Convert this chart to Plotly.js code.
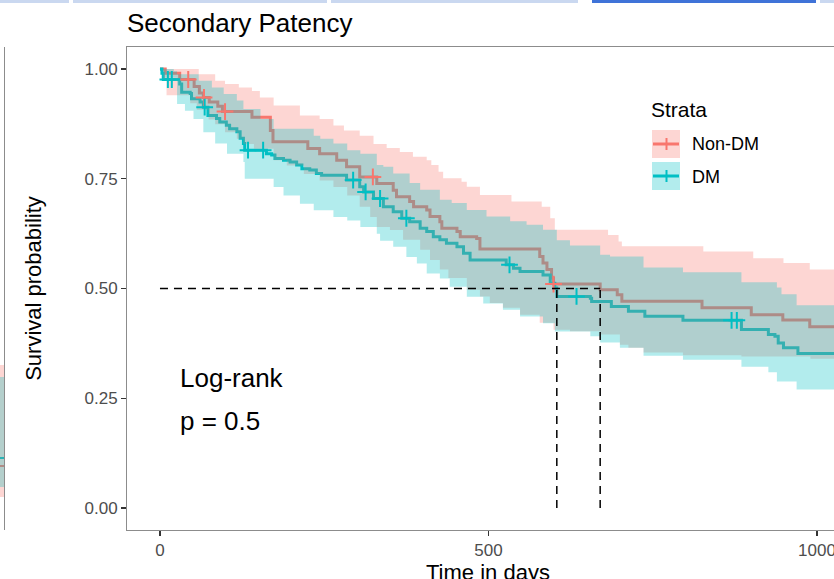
<!DOCTYPE html>
<html><head><meta charset="utf-8">
<script src="https://cdn.plot.ly/plotly-3.0.1.min.js"></script>
<style>html,body{margin:0;padding:0;overflow:hidden;background:#fff}#chart{width:880px;height:579px}</style>
</head><body><div id="chart"></div>
<script>
// ---------------- data ----------------
const strata = ["Non-DM", "DM"];
const T_END = 1060;

const nonDM_t = [0, 8, 30, 52, 60, 66, 75, 88, 95, 140, 168, 172, 225, 243, 269, 284, 304, 330, 355, 360, 380, 386, 406, 411, 426, 429, 452, 457, 482, 487, 578, 583, 589, 596, 599, 670, 696, 703, 825, 900, 948, 989];
const nonDM_s = [1.0, 0.99, 0.976, 0.96, 0.945, 0.935, 0.925, 0.915, 0.903, 0.89, 0.86, 0.834, 0.819, 0.807, 0.792, 0.777, 0.754, 0.739, 0.724, 0.709, 0.698, 0.686, 0.679, 0.664, 0.652, 0.637, 0.630, 0.618, 0.614, 0.590, 0.573, 0.558, 0.543, 0.524, 0.510, 0.497, 0.486, 0.471, 0.456, 0.440, 0.428, 0.413];
const nonDM_upper_t = [0, 59, 84, 99, 120, 140, 152, 173, 213, 243, 264, 280, 304, 325, 345, 365, 385, 406, 413, 424, 431, 459, 467, 487, 535, 581, 594, 601, 682, 698, 703, 827, 903, 949, 989];
const nonDM_upper_s = [1.0, 0.988, 0.973, 0.966, 0.958, 0.950, 0.935, 0.917, 0.894, 0.886, 0.871, 0.860, 0.848, 0.829, 0.820, 0.811, 0.800, 0.792, 0.781, 0.766, 0.751, 0.743, 0.732, 0.713, 0.698, 0.686, 0.660, 0.634, 0.622, 0.607, 0.596, 0.584, 0.569, 0.558, 0.543];
const nonDM_lower_t = [0, 5, 10, 46, 56, 74, 84, 99, 117, 127, 143, 173, 193, 219, 243, 264, 285, 304, 320, 330, 350, 370, 396, 411, 426, 439, 467, 487, 502, 522, 548, 578, 599, 624, 670, 700, 713, 736, 796, 885, 990];
const nonDM_lower_s = [1.0, 0.975, 0.94, 0.922, 0.907, 0.885, 0.874, 0.856, 0.841, 0.829, 0.818, 0.792, 0.780, 0.761, 0.746, 0.731, 0.712, 0.686, 0.663, 0.640, 0.633, 0.611, 0.588, 0.565, 0.543, 0.524, 0.497, 0.482, 0.467, 0.456, 0.440, 0.422, 0.406, 0.4025, 0.395, 0.372, 0.365, 0.354, 0.348, 0.345, 0.340];
const nonDM_cens_t = [43, 67, 99, 324, 599];
const nonDM_cens_s = [0.976, 0.935, 0.903, 0.754, 0.510];

const dm_t = [0, 3, 5, 30, 33, 46, 48, 61, 66, 73, 86, 91, 101, 106, 117, 122, 127, 129, 162, 170, 175, 188, 198, 208, 216, 228, 238, 246, 284, 304, 310, 325, 340, 355, 368, 380, 396, 406, 416, 426, 436, 452, 462, 472, 527, 538, 548, 583, 594, 601, 604, 655, 657, 687, 713, 738, 796, 885, 926, 936, 941, 949, 971];
const dm_s = [1.0, 0.99, 0.976, 0.966, 0.947, 0.944, 0.932, 0.925, 0.913, 0.894, 0.887, 0.879, 0.872, 0.864, 0.857, 0.842, 0.830, 0.815, 0.807, 0.804, 0.796, 0.792, 0.788, 0.781, 0.773, 0.770, 0.762, 0.758, 0.747, 0.732, 0.720, 0.705, 0.686, 0.675, 0.660, 0.652, 0.637, 0.630, 0.618, 0.611, 0.603, 0.595, 0.580, 0.565, 0.554, 0.546, 0.539, 0.531, 0.512, 0.501, 0.482, 0.478, 0.4706, 0.459, 0.448, 0.4366, 0.4275, 0.4064, 0.395, 0.391, 0.376, 0.365, 0.352];
const dm_upper_t = [0, 21, 26, 59, 79, 97, 117, 127, 153, 173, 234, 244, 264, 285, 305, 330, 340, 355, 380, 396, 426, 444, 467, 497, 533, 558, 583, 604, 624, 670, 685, 736, 796, 885, 939, 946, 969];
const dm_upper_s = [1.0, 0.995, 0.988, 0.973, 0.958, 0.943, 0.928, 0.909, 0.886, 0.864, 0.848, 0.841, 0.830, 0.815, 0.807, 0.781, 0.777, 0.762, 0.740, 0.725, 0.702, 0.695, 0.679, 0.664, 0.653, 0.645, 0.634, 0.610, 0.598, 0.577, 0.573, 0.548, 0.537, 0.514, 0.502, 0.487, 0.462];
const dm_lower_t = [0, 3, 26, 38, 51, 66, 84, 102, 127, 129, 173, 188, 213, 234, 264, 285, 305, 330, 335, 355, 375, 391, 406, 426, 441, 467, 492, 522, 548, 583, 601, 655, 670, 700, 736, 796, 885, 926, 939, 969];
const dm_lower_s = [1.0, 0.98, 0.92, 0.905, 0.886, 0.856, 0.830, 0.807, 0.788, 0.750, 0.731, 0.712, 0.693, 0.678, 0.663, 0.655, 0.640, 0.6245, 0.609, 0.595, 0.572, 0.557, 0.534, 0.523, 0.504, 0.481, 0.466, 0.4515, 0.436, 0.421, 0.402, 0.391, 0.377, 0.365, 0.347, 0.338, 0.322, 0.309, 0.288, 0.270];
const dm_cens_t = [12, 18, 68, 134, 157, 294, 313, 335, 375, 532, 634, 870, 878];
const dm_cens_s = [0.976, 0.976, 0.913, 0.815, 0.815, 0.747, 0.720, 0.705, 0.660, 0.554, 0.482, 0.4275, 0.4275];

const xTicks = [0, 500, 1000];
const yTicks = [0, 0.25, 0.5, 0.75, 1.0];
const yTickText = ["0.00", "0.25", "0.50", "0.75", "1.00"];
const pvalText = ["Log-rank", "p = 0.5"];
const xTitle = "Time in days";

// ---------------- helpers ----------------
const RED = "#F8766D", TEAL = "#00BFC4";
const RED_F = "rgba(248,118,109,0.3)", TEAL_F = "rgba(0,191,196,0.3)";

function stepPts(t, s, tEnd) {
  const x = [], y = [];
  for (let i = 0; i < t.length; i++) {
    if (i > 0) { x.push(t[i]); y.push(s[i - 1]); }
    x.push(t[i]); y.push(s[i]);
  }
  x.push(tEnd); y.push(s[s.length - 1]);
  return {x, y};
}
function ribbon(tu, su, tl, sl, tEnd) {
  const u = stepPts(tu, su, tEnd), l = stepPts(tl, sl, tEnd);
  return {x: u.x.concat(l.x.slice().reverse()), y: u.y.concat(l.y.slice().reverse())};
}
function median(t, s) {
  for (let i = 0; i < t.length; i++) if (s[i] <= 0.5) return t[i];
  return null;
}

const medNon = median(nonDM_t, nonDM_s), medDM = median(dm_t, dm_s);
const medMax = Math.max(medNon, medDM);

const rNon = ribbon(nonDM_upper_t, nonDM_upper_s, nonDM_lower_t, nonDM_lower_s, T_END);
const rDM = ribbon(dm_upper_t, dm_upper_s, dm_lower_t, dm_lower_s, T_END);

const traces = [
  {x: nonDM_t.concat([T_END]), y: nonDM_s.concat([nonDM_s[nonDM_s.length - 1]]), mode: "lines", line: {shape: "hv", color: RED, width: 3}, name: strata[0], hoverinfo: "skip"},
  {x: dm_t.concat([T_END]), y: dm_s.concat([dm_s[dm_s.length - 1]]), mode: "lines", line: {shape: "hv", color: TEAL, width: 3}, name: strata[1], hoverinfo: "skip"},
  {x: rNon.x, y: rNon.y, mode: "lines", fill: "toself", fillcolor: RED_F, line: {width: 0, color: "rgba(0,0,0,0)"}, hoverinfo: "skip"},
  {x: rDM.x, y: rDM.y, mode: "lines", fill: "toself", fillcolor: TEAL_F, line: {width: 0, color: "rgba(0,0,0,0)"}, hoverinfo: "skip"},
  {x: nonDM_cens_t, y: nonDM_cens_s, mode: "markers", marker: {symbol: "cross-thin", size: 12, line: {width: 2, color: RED}, color: RED}, hoverinfo: "skip"},
  {x: dm_cens_t, y: dm_cens_s, mode: "markers", marker: {symbol: "cross-thin", size: 12, line: {width: 2, color: TEAL}, color: TEAL}, hoverinfo: "skip"},
  {x: [0, medMax, null, medDM, medDM, null, medNon, medNon], y: [0.5, 0.5, null, 0, 0.5, null, 0, 0.5], mode: "lines", line: {color: "#000", width: 1.5, dash: "8px,6px"}, hoverinfo: "skip"}
];

// layout positions (pixels -> paper)
const ML = 127, MT = 47, PW = 725, PH = 483;
const PX = px => (px - ML) / PW;
const PY = py => (MT + PH - py) / PH;

const shapes = [
  // legend keys
  {type: "rect", xref: "paper", yref: "paper", x0: PX(652), x1: PX(680), y0: PY(158), y1: PY(130), fillcolor: RED_F, line: {width: 0}},
  {type: "rect", xref: "paper", yref: "paper", x0: PX(652), x1: PX(680), y0: PY(190), y1: PY(162), fillcolor: TEAL_F, line: {width: 0}},
  {type: "line", xref: "paper", yref: "paper", x0: PX(653), x1: PX(679), y0: PY(144), y1: PY(144), line: {color: RED, width: 3}},
  {type: "line", xref: "paper", yref: "paper", x0: PX(666.5), x1: PX(666.5), y0: PY(138), y1: PY(150), line: {color: RED, width: 2}},
  {type: "line", xref: "paper", yref: "paper", x0: PX(653), x1: PX(679), y0: PY(176), y1: PY(176), line: {color: TEAL, width: 3}},
  {type: "line", xref: "paper", yref: "paper", x0: PX(666.5), x1: PX(666.5), y0: PY(170), y1: PY(182), line: {color: TEAL, width: 2}},
  // neighbouring panel edge on the left
  {type: "rect", xref: "paper", yref: "paper", x0: PX(0), x1: PX(4), y0: PY(377), y1: PY(365), fillcolor: RED_F, line: {width: 0}},
  {type: "rect", xref: "paper", yref: "paper", x0: PX(0), x1: PX(4), y0: PY(487), y1: PY(377), fillcolor: "#b4cfcc", line: {width: 0}},
  {type: "rect", xref: "paper", yref: "paper", x0: PX(0), x1: PX(4), y0: PY(497), y1: PY(487), fillcolor: RED_F, line: {width: 0}},
  {type: "line", xref: "paper", yref: "paper", x0: PX(0), x1: PX(4), y0: PY(458), y1: PY(458), line: {color: "#2bb3b5", width: 2}},
  {type: "line", xref: "paper", yref: "paper", x0: PX(0), x1: PX(4), y0: PY(466), y1: PY(466), line: {color: "#b08c86", width: 2}},
  {type: "line", xref: "paper", yref: "paper", x0: PX(4.5), x1: PX(4.5), y0: PY(47), y1: PY(530), line: {color: "#8c8c8c", width: 1}},
  // strip at the very top
  {type: "rect", xref: "paper", yref: "paper", x0: PX(0), x1: PX(69), y0: PY(3), y1: PY(0), fillcolor: "#cad8f0", line: {width: 0}},
  {type: "rect", xref: "paper", yref: "paper", x0: PX(73), x1: PX(327), y0: PY(3), y1: PY(0), fillcolor: "#cad8f0", line: {width: 0}},
  {type: "rect", xref: "paper", yref: "paper", x0: PX(331), x1: PX(578), y0: PY(3), y1: PY(0), fillcolor: "#cad8f0", line: {width: 0}},
  {type: "rect", xref: "paper", yref: "paper", x0: PX(592), x1: PX(816), y0: PY(3), y1: PY(0), fillcolor: "#3f73d8", line: {width: 0}},
  {type: "rect", xref: "paper", yref: "paper", x0: PX(820), x1: PX(834), y0: PY(3), y1: PY(0), fillcolor: "#cad8f0", line: {width: 0}}
];

const FONT = "Arial, 'Liberation Sans', sans-serif";
const annotations = [
  {xref: "paper", yref: "paper", x: PX(649), y: PY(109), xanchor: "left", yanchor: "middle", text: "Strata", showarrow: false, font: {size: 21, color: "#000", family: FONT}},
  {xref: "paper", yref: "paper", x: PX(690), y: PY(144), xanchor: "left", yanchor: "middle", text: strata[0], showarrow: false, font: {size: 18, color: "#000", family: FONT}},
  {xref: "paper", yref: "paper", x: PX(690), y: PY(177), xanchor: "left", yanchor: "middle", text: strata[1], showarrow: false, font: {size: 18, color: "#000", family: FONT}},
  {xref: "x", yref: "y", x: 28, y: 0.296, xanchor: "left", yanchor: "middle", text: pvalText[0], showarrow: false, font: {size: 26, color: "#000", family: FONT}},
  {xref: "x", yref: "y", x: 28, y: 0.198, xanchor: "left", yanchor: "middle", text: pvalText[1], showarrow: false, font: {size: 26, color: "#000", family: FONT}},
  {xref: "x", yref: "paper", x: 500, y: PY(572), xanchor: "center", yanchor: "middle", text: xTitle, showarrow: false, font: {size: 22, color: "#000", family: FONT}}
];

const layout = {
  width: 880, height: 579,
  margin: {l: ML, r: 880 - ML - PW, t: MT, b: 579 - MT - PH},
  paper_bgcolor: "#fff", plot_bgcolor: "#fff",
  font: {family: FONT, color: "#000"},
  showlegend: false,
  title: {text: "Secondary Patency", font: {size: 26, color: "#000", family: FONT}, xref: "paper", x: 0, xanchor: "left", yref: "container", y: 1 - 23 / 579, yanchor: "middle"},
  xaxis: {range: [-50.2, -50.2 + PW / 0.657], tickvals: xTicks, ticktext: xTicks.map(String), showgrid: false, zeroline: false,
          showline: true, mirror: true, linecolor: "#8c8c8c", linewidth: 1, ticks: "outside", ticklen: 5, tickwidth: 1.1, tickcolor: "#333",
          tickfont: {size: 17, color: "#4d4d4d", family: FONT}, title: {text: ""}},
  yaxis: {range: [-0.05, 1.05], tickvals: yTicks, ticktext: yTickText, showgrid: false, zeroline: false,
          showline: true, mirror: true, linecolor: "#8c8c8c", linewidth: 1, ticks: "outside", ticklen: 5, tickwidth: 1.1, tickcolor: "#333",
          tickfont: {size: 17, color: "#4d4d4d", family: FONT}, title: {text: "Survival probability", font: {size: 22, color: "#000", family: FONT}, standoff: 36}},
  shapes: shapes,
  annotations: annotations
};

Plotly.newPlot("chart", traces, layout, {staticPlot: true, displayModeBar: false});
</script>
</body></html>
